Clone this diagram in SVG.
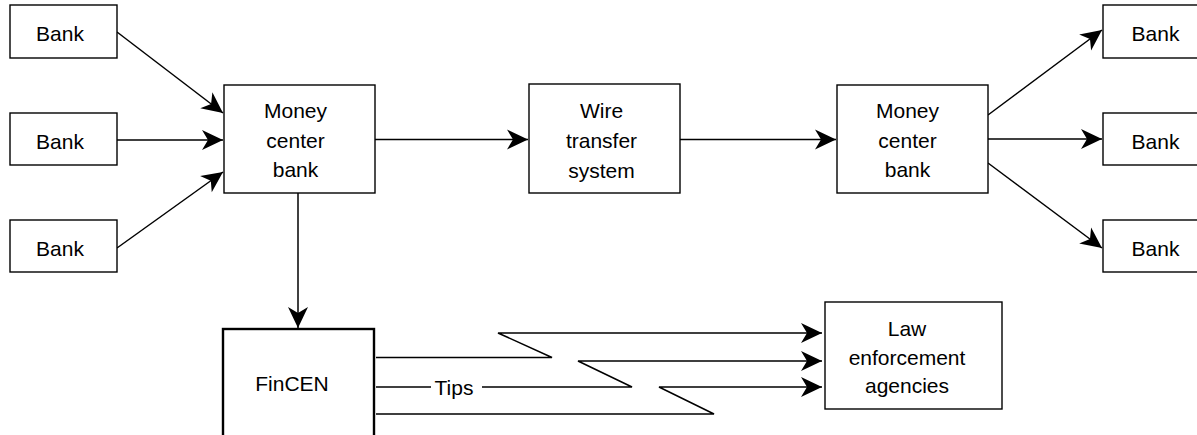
<svg xmlns="http://www.w3.org/2000/svg" width="1197" height="435" viewBox="0 0 1197 435">
<style>
.box{fill:#fff;stroke:#000;stroke-width:1.4}
.thick{fill:#fff;stroke:#000;stroke-width:2.4}
.t{font-family:"Liberation Sans",Arial,sans-serif;font-size:21px;fill:#000;text-anchor:middle}
.c{fill:none;stroke:#000;stroke-width:1.5}
</style>
<defs>
<marker id="ah" markerUnits="userSpaceOnUse" viewBox="-22 -11 23 22" refX="0" refY="0" markerWidth="23" markerHeight="22" orient="auto">
<path d="M0,0 L-21,-10 L-15,0 L-21,10 Z" fill="#000"/>
</marker>
</defs>
<rect width="1197" height="435" fill="#fff"/>
<g id="connectors">
<line class="c" x1="117" y1="32" x2="223" y2="113" marker-end="url(#ah)"/>
<line class="c" x1="117" y1="140" x2="223" y2="140" marker-end="url(#ah)"/>
<line class="c" x1="117" y1="248" x2="223" y2="172" marker-end="url(#ah)"/>
<line class="c" x1="375" y1="139.5" x2="528" y2="139.5" marker-end="url(#ah)"/>
<line class="c" x1="680" y1="139.5" x2="836" y2="139.5" marker-end="url(#ah)"/>
<line class="c" x1="988" y1="115" x2="1102" y2="30" marker-end="url(#ah)"/>
<line class="c" x1="988" y1="139" x2="1102" y2="139" marker-end="url(#ah)"/>
<line class="c" x1="988" y1="163" x2="1102" y2="248" marker-end="url(#ah)"/>
<line class="c" x1="298" y1="193" x2="298" y2="328" marker-end="url(#ah)"/>
<path class="c" d="M376,357.5 H552 L498,333 H822" marker-end="url(#ah)"/>
<path class="c" d="M376,387 H431"/>
<path class="c" d="M482,387 H632 L578,361 H822" marker-end="url(#ah)"/>
<path class="c" d="M376,414 H714 L659,387 H822" marker-end="url(#ah)"/>
<text class="t" x="454" y="395">Tips</text>
</g>
<g id="bank-l1"><rect class="box" x="10" y="5" width="107" height="53"/><text class="t" x="60" y="40.5">Bank</text></g>
<g id="bank-l2"><rect class="box" x="10" y="113" width="107" height="52"/><text class="t" x="60" y="148.5">Bank</text></g>
<g id="bank-l3"><rect class="box" x="10" y="220" width="107" height="52"/><text class="t" x="60" y="255.5">Bank</text></g>
<g id="money-center-1"><rect class="box" x="224" y="85" width="151" height="108"/>
<text class="t" x="295.5" y="117.5">Money</text><text class="t" x="295.5" y="147.5">center</text><text class="t" x="295.5" y="177">bank</text></g>
<g id="wire"><rect class="box" x="529" y="84" width="151" height="109"/>
<text class="t" x="601.5" y="118">Wire</text><text class="t" x="601.5" y="148">transfer</text><text class="t" x="601.5" y="177.5">system</text></g>
<g id="money-center-2"><rect class="box" x="837" y="85" width="151" height="108"/>
<text class="t" x="907.5" y="117.5">Money</text><text class="t" x="907.5" y="147.5">center</text><text class="t" x="907.5" y="177">bank</text></g>
<g id="bank-r1"><rect class="box" x="1103" y="5" width="110" height="53"/><text class="t" x="1155.5" y="40.5">Bank</text></g>
<g id="bank-r2"><rect class="box" x="1103" y="113" width="110" height="52"/><text class="t" x="1155.5" y="148.5">Bank</text></g>
<g id="bank-r3"><rect class="box" x="1103" y="220" width="110" height="52"/><text class="t" x="1155.5" y="255.5">Bank</text></g>
<g id="fincen"><rect class="thick" x="223" y="329" width="151" height="120"/><text class="t" x="292" y="391">FinCEN</text></g>
<g id="law"><rect class="box" x="825" y="302" width="177" height="107"/>
<text class="t" x="907" y="335.5">Law</text><text class="t" x="907" y="364.5">enforcement</text><text class="t" x="907" y="392.5">agencies</text></g>
</svg>
